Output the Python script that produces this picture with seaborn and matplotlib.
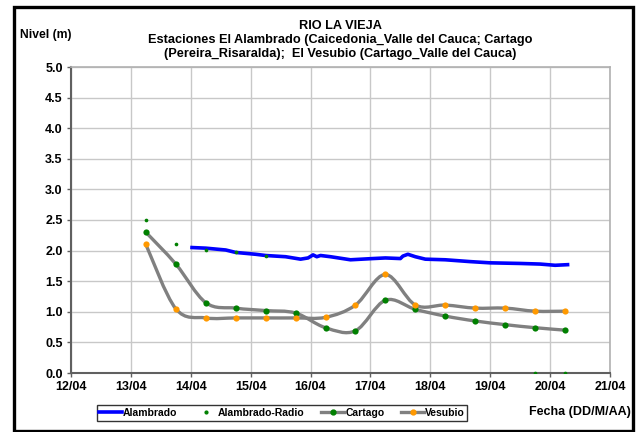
import numpy as np
import pandas as pd
import matplotlib
matplotlib.use("Agg")
import matplotlib.pyplot as plt
import matplotlib.dates as mdates
from matplotlib.path import Path
from matplotlib.patches import PathPatch, Rectangle
from matplotlib.lines import Line2D
import seaborn as sns

# Alambrado (continuous gauge)
alambrado_time = ["2011-04-14 00:30", "2011-04-14 06:00", "2011-04-14 14:00", "2011-04-14 18:00",
                  "2011-04-15 02:00", "2011-04-15 06:00", "2011-04-15 14:00", "2011-04-15 20:00",
                  "2011-04-15 23:00", "2011-04-16 01:00", "2011-04-16 02:30", "2011-04-16 04:00",
                  "2011-04-16 08:00", "2011-04-16 16:00", "2011-04-17 01:00", "2011-04-17 06:00",
                  "2011-04-17 12:00", "2011-04-17 13:00", "2011-04-17 15:00", "2011-04-17 18:00",
                  "2011-04-17 22:00", "2011-04-18 06:00", "2011-04-18 16:00", "2011-04-19 00:00",
                  "2011-04-19 12:00", "2011-04-19 20:00", "2011-04-20 02:00", "2011-04-20 07:00"]
alambrado_nivel = [2.05, 2.04, 2.01, 1.97, 1.94, 1.92, 1.90, 1.86, 1.88, 1.93, 1.90, 1.92,
                   1.90, 1.85, 1.87, 1.88, 1.87, 1.91, 1.94, 1.90, 1.86, 1.85, 1.82, 1.80,
                   1.79, 1.78, 1.76, 1.77]

# readings at 06:00 and 18:00
obs_time = ["2011-04-13 06:00", "2011-04-13 18:00", "2011-04-14 06:00", "2011-04-14 18:00",
            "2011-04-15 06:00", "2011-04-15 18:00", "2011-04-16 06:00", "2011-04-16 18:00",
            "2011-04-17 06:00", "2011-04-17 18:00", "2011-04-18 06:00", "2011-04-18 18:00",
            "2011-04-19 06:00", "2011-04-19 18:00", "2011-04-20 06:00"]
radio_nivel = [2.50, 2.10, 2.01, 1.97, 1.91, np.nan, np.nan, np.nan,
               np.nan, np.nan, np.nan, np.nan, np.nan, 0.0, 0.0]
cartago_nivel = [2.30, 1.78, 1.15, 1.06, 1.02, 0.98, 0.74, 0.69,
                 1.19, 1.04, 0.93, 0.85, 0.79, 0.74, 0.70]
vesubio_nivel = [2.10, 1.05, 0.90, 0.90, 0.90, 0.90, 0.91, 1.11,
                 1.61, 1.11, 1.11, 1.06, 1.06, 1.01, 1.01]

x_ticks = pd.date_range("2011-04-12", "2011-04-21", freq="D")

df_al = pd.DataFrame({"fecha": pd.to_datetime(alambrado_time), "nivel": alambrado_nivel})
df_obs = pd.DataFrame({"fecha": pd.to_datetime(obs_time), "radio": radio_nivel,
                       "cartago": cartago_nivel, "vesubio": vesubio_nivel})

plt.rcParams["font.family"] = ["Liberation Sans", "DejaVu Sans"]
plt.rcParams["font.weight"] = "bold"

fig = plt.figure(figsize=(6.37, 4.32), dpi=100)
ax = fig.add_axes([71 / 637, 1 - 373 / 432, 539 / 637, 306 / 432])


def smooth_path(xs, ys):
    # Excel-style smoothed line: cubic Bezier through the points
    pts = np.column_stack([xs, ys])
    n = len(pts)
    verts = [pts[0]]
    codes = [Path.MOVETO]
    for i in range(n - 1):
        p0 = pts[i - 1] if i > 0 else pts[i]
        p1 = pts[i]
        p2 = pts[i + 1]
        p3 = pts[i + 2] if i + 2 < n else pts[i + 1]
        c1 = p1 + (p2 - p0) / 6
        c2 = p2 - (p3 - p1) / 6
        verts += [c1, c2, p2]
        codes += [Path.CURVE4] * 3
    return Path(verts, codes)


xnum = mdates.date2num(df_obs["fecha"])
gray = "#808080"
green = "#008000"
orange = "#FF9900"

sns.lineplot(data=df_al, x="fecha", y="nivel", color="#0000FF", linewidth=2.6, ax=ax, zorder=3)
ax.add_patch(PathPatch(smooth_path(xnum, df_obs["cartago"].values), fill=False,
                       edgecolor=gray, linewidth=2.4, zorder=4))
ax.add_patch(PathPatch(smooth_path(xnum, df_obs["vesubio"].values), fill=False,
                       edgecolor=gray, linewidth=2.4, zorder=4))
sns.scatterplot(data=df_obs, x="fecha", y="radio", color=green, s=7, linewidth=0, ax=ax, zorder=6)
sns.scatterplot(data=df_obs, x="fecha", y="cartago", color=green, s=20, linewidth=0, ax=ax, zorder=5)
sns.scatterplot(data=df_obs, x="fecha", y="vesubio", color=orange, s=20, linewidth=0, ax=ax, zorder=5)

ax.set_xlim(x_ticks[0], x_ticks[-1])
ax.set_ylim(0, 5)
ax.set_xticks(x_ticks)
ax.xaxis.set_major_formatter(mdates.DateFormatter("%d/%m"))
ax.set_yticks(np.arange(0, 5.01, 0.5))
ax.yaxis.set_major_formatter(matplotlib.ticker.FormatStrFormatter("%.1f"))
ax.grid(True, color="#c8c8c8", linewidth=1.0)
ax.set_axisbelow(True)
ax.tick_params(axis="both", labelsize=9, length=3, color="#606060", width=1, pad=3)
for lbl in ax.get_xticklabels() + ax.get_yticklabels():
    lbl.set_fontweight("bold")
ax.set_xlabel("")
ax.set_ylabel("")
for side in ["left", "bottom"]:
    ax.spines[side].set_color("#606060")
    ax.spines[side].set_linewidth(1.5)
for side in ["top", "right"]:
    ax.spines[side].set_color("#b0b0b0")
    ax.spines[side].set_linewidth(1.2)

title_lines = ["RIO LA VIEJA",
               "Estaciones El Alambrado (Caicedonia_Valle del Cauca; Cartago",
               "(Pereira_Risaralda);  El Vesubio (Cartago_Valle del Cauca)"]
for line, ypix in zip(title_lines, [26, 40, 54]):
    fig.text(340 / 637, 1 - ypix / 432, line, ha="center", va="center", fontsize=9.2, fontweight="bold")
fig.text(46 / 637, 1 - 35 / 432, "Nivel (m)", ha="center", va="center", fontsize=8.7, fontweight="bold")
fig.text(580 / 637, 1 - 412 / 432, "Fecha (DD/M/AA)", ha="center", va="center", fontsize=9, fontweight="bold")

handles = [
    Line2D([], [], color="#0000FF", linewidth=2.6),
    Line2D([], [], color=green, marker="o", markersize=2, linestyle="none"),
    Line2D([], [], color=gray, linewidth=2.4, marker="o", markersize=3.5,
           markerfacecolor=green, markeredgecolor=green),
    Line2D([], [], color=gray, linewidth=2.4, marker="o", markersize=3.5,
           markerfacecolor=orange, markeredgecolor=orange),
]
labels = ["Alambrado", "Alambrado-Radio", "Cartago", "Vesubio"]
leg = fig.legend(handles, labels, loc="center", bbox_to_anchor=(282 / 637, 1 - 413 / 432),
                 ncol=4, fontsize=7.5, frameon=True, fancybox=False, handlelength=2.2,
                 handletextpad=0.1, columnspacing=1.6, borderpad=0.25)
leg.get_frame().set_edgecolor("black")
leg.get_frame().set_linewidth(1.0)
for t in leg.get_texts():
    t.set_fontweight("bold")

fig.patches.append(Rectangle((14 / 637, 0.002), 619 / 637, 1 - 7 / 432 - 0.002,
                             transform=fig.transFigure, fill=False, edgecolor="black", linewidth=2.4))

fig.savefig("out.png", dpi=100)
